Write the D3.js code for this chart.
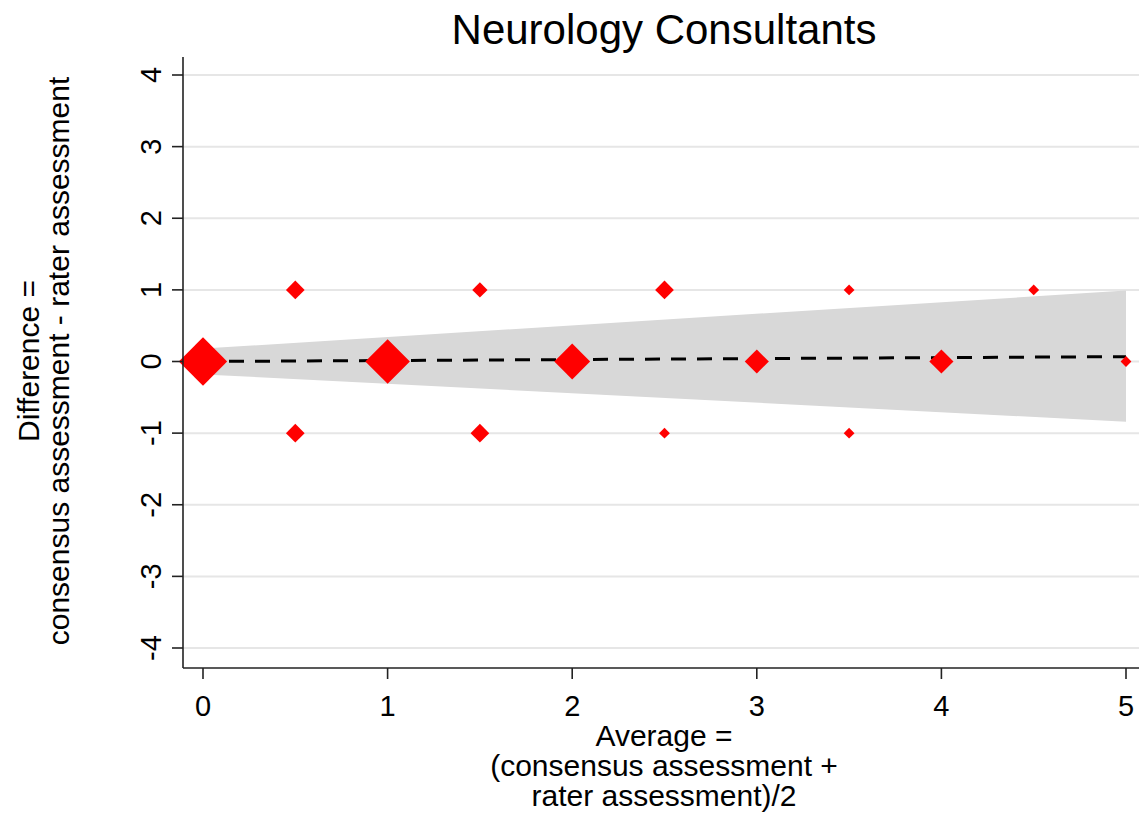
<!DOCTYPE html>
<html>
<head>
<meta charset="utf-8">
<script src="https://cdn.jsdelivr.net/npm/d3@7"></script>
<style>
  html, body { margin: 0; padding: 0; background: #fff; }
  svg { display: block; font-family: "Liberation Sans", Arial, sans-serif; }
</style>
</head>
<body>
<svg id="chart" width="1139" height="813"></svg>
<script>
// ---- data ----
const avgValues  = [0, 0.5, 0.5, 1, 1.5, 1.5, 2, 2.5, 2.5, 3, 3.5, 3.5, 4, 4.5, 5];
const diffValues = [0, 1, -1, 0, 1, -1, 0, 1, -1, 0, 1, -1, 0, 1, 0];
const counts     = [20, 3, 3, 17, 2, 3, 11, 3, 1, 5, 1, 1, 5, 1, 1];

const bandX     = [0, 5];
const bandUpper = [0.18, 0.99];
const bandLower = [-0.18, -0.84];
const meanLine  = [0.0, 0.068];

const xTicks = [0, 1, 2, 3, 4, 5];
const yTicks = [-4, -3, -2, -1, 0, 1, 2, 3, 4];

const titleText = "Neurology Consultants";
const yTitleLines = ["Difference =", "consensus assessment - rater assessment"];
const xTitleLines = ["Average =", "(consensus assessment +", "rater assessment)/2"];

// ---- layout ----
const svg = d3.select("#chart");
const plotLeft = 183, plotRight = 1139, plotTop = 57, plotBottom = 668;

const x = d3.scaleLinear().domain([0, 5]).range([203, 1126]);
const y = d3.scaleLinear().domain([-4, 4]).range([648, 75]);
const r = d3.scaleSqrt().domain([0, 1]).range([0, 5.4]);

// gridlines
svg.append("g").selectAll("line").data(yTicks).join("line")
  .attr("x1", plotLeft).attr("x2", plotRight)
  .attr("y1", d => y(d)).attr("y2", d => y(d))
  .attr("stroke", "#e6e6e6").attr("stroke-width", 2);

// band
const bandData = bandX.map((v, i) => ({x: v, lo: bandLower[i], hi: bandUpper[i]}));
svg.append("path")
  .datum(bandData)
  .attr("d", d3.area().x(d => x(d.x)).y0(d => y(d.lo)).y1(d => y(d.hi)))
  .attr("fill", "#d8d8d8");

// mean line (dashed)
const lineData = bandX.map((v, i) => ({x: v, y: meanLine[i]}));
svg.append("path")
  .datum(lineData)
  .attr("d", d3.line().x(d => x(d.x)).y(d => y(d.y)))
  .attr("fill", "none").attr("stroke", "#000")
  .attr("stroke-width", 3).attr("stroke-dasharray", "15,11");

// markers (diamonds)
const pts = avgValues.map((v, i) => ({x: v, y: diffValues[i], n: counts[i]}));
svg.append("g").selectAll("path").data(pts).join("path")
  .attr("d", d => {
    const cx = x(d.x), cy = y(d.y), s = r(d.n);
    return `M${cx},${cy - s}L${cx + s},${cy}L${cx},${cy + s}L${cx - s},${cy}Z`;
  })
  .attr("fill", "#ff0000");

// axes lines
svg.append("line").attr("x1", plotLeft).attr("x2", plotLeft)
  .attr("y1", plotTop).attr("y2", plotBottom)
  .attr("stroke", "#222").attr("stroke-width", 1.6);
svg.append("line").attr("x1", plotLeft).attr("x2", plotRight)
  .attr("y1", plotBottom).attr("y2", plotBottom)
  .attr("stroke", "#222").attr("stroke-width", 1.6);

// y ticks
const yAxisG = svg.append("g");
yAxisG.selectAll("line").data(yTicks).join("line")
  .attr("x1", plotLeft - 11).attr("x2", plotLeft)
  .attr("y1", d => y(d)).attr("y2", d => y(d))
  .attr("stroke", "#222").attr("stroke-width", 1.6);
yAxisG.selectAll("text").data(yTicks).join("text")
  .attr("transform", d => `translate(161,${y(d)}) rotate(-90)`)
  .attr("text-anchor", "middle")
  .attr("font-size", 29).attr("fill", "#000")
  .text(d => d);

// x ticks
const xAxisG = svg.append("g");
xAxisG.selectAll("line").data(xTicks).join("line")
  .attr("x1", d => x(d)).attr("x2", d => x(d))
  .attr("y1", plotBottom).attr("y2", plotBottom + 11)
  .attr("stroke", "#222").attr("stroke-width", 1.6);
xAxisG.selectAll("text").data(xTicks).join("text")
  .attr("x", d => x(d)).attr("y", 716)
  .attr("text-anchor", "middle")
  .attr("font-size", 29).attr("fill", "#000")
  .text(d => d);

// title
svg.append("text")
  .attr("x", 664).attr("y", 44)
  .attr("text-anchor", "middle")
  .attr("font-size", 42).attr("fill", "#000")
  .text(titleText);

// y title
svg.append("g").selectAll("text").data(yTitleLines).join("text")
  .attr("transform", (d, i) => `translate(${39 + i * 30},361) rotate(-90)`)
  .attr("text-anchor", "middle")
  .attr("font-size", 30).attr("fill", "#000")
  .text(d => d);

// x title
svg.append("g").selectAll("text").data(xTitleLines).join("text")
  .attr("x", 664).attr("y", (d, i) => 746 + i * 30)
  .attr("text-anchor", "middle")
  .attr("font-size", 30).attr("fill", "#000")
  .text(d => d);
</script>
</body>
</html>
